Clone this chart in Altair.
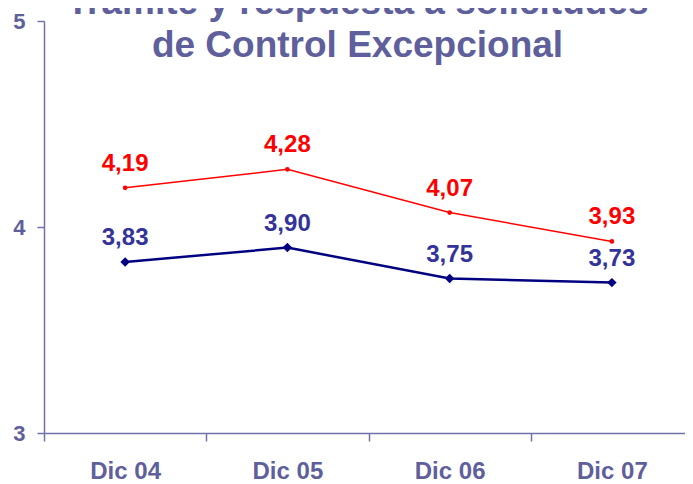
import altair as alt
import pandas as pd

categories = ["Dic 04", "Dic 05", "Dic 06", "Dic 07"]
red_values = [4.19, 4.28, 4.07, 3.93]
blue_values = [3.83, 3.90, 3.75, 3.73]
y_ticks = [3, 4, 5]
title_lines = ["Trámite y respuesta a solicitudes", "de Control Excepcional"]

rows = []
for c, r, b in zip(categories, red_values, blue_values):
    rows.append({"cat": c, "serie": "rojo", "v": r})
    rows.append({"cat": c, "serie": "azul", "v": b})
df = pd.DataFrame(rows)

AX = "#7272aa"
TX = "#5f5f9c"

# plot area is cut by the page edge on the right, as in the reference
x_enc = alt.X("cat:N", sort=categories, title=None,
              scale=alt.Scale(paddingInner=0, paddingOuter=0, range=[0, 649]),
              axis=alt.Axis(labelAngle=0, labelFont="Liberation Sans", labelFontSize=24,
                            labelFontWeight="bold", labelColor=TX, domainColor=AX,
                            domainWidth=1.5, tickColor=AX, tickWidth=1.5, tickSize=8,
                            tickBand="extent", labelPadding=18, grid=False))
y_enc = alt.Y("v:Q", title=None,
              scale=alt.Scale(domain=[3, 5], nice=False, zero=False),
              axis=alt.Axis(values=y_ticks, labelExpr="format(datum.value, '.0f')",
                            labelFont="Liberation Sans",
                            labelFontSize=22, labelFontWeight="bold", labelColor=TX,
                            labelOverlap=False, labelFlush=False,
                            domainColor=AX, domainWidth=1.5, tickColor=AX, tickWidth=1.5,
                            tickSize=7, labelPadding=12, grid=False))

base = alt.Chart(df).encode(x=x_enc, y=y_enc)

red = base.transform_filter(alt.datum.serie == "rojo")
blue = base.transform_filter(alt.datum.serie == "azul")

red_line = red.mark_line(color="#ff0000", strokeWidth=1.5)
red_pts = red.mark_point(shape="circle", filled=True, color="#ff0000", size=22, opacity=1)
blue_line = blue.mark_line(color="#000080", strokeWidth=2.5)
blue_pts = blue.mark_point(shape="diamond", filled=True, color="#000080", size=90, opacity=1)

lab = "replace(format(datum.v, '.2f'), '.', ',')"
red_txt = red.transform_calculate(t=lab).mark_text(
    font="Liberation Sans", fontSize=24, fontWeight="bold", color="#ff0000",
    baseline="alphabetic", dy=-17).encode(text="t:N")
blue_txt = blue.transform_calculate(t=lab).mark_text(
    font="Liberation Sans", fontSize=24, fontWeight="bold", color="#333399",
    baseline="alphabetic", dy=-17).encode(text="t:N")

chart = alt.layer(red_line, red_pts, blue_line, blue_pts, red_txt, blue_txt).properties(
    width=641, height=412,
    title=alt.TitleParams(text=title_lines, font="Liberation Sans", fontSize=37,
                          fontWeight="bold", color=TX, anchor="middle",
                          baseline="alphabetic", lineHeight=43, offset=0, dx=-7, dy=84),
    autosize=alt.AutoSizeParams(type="none"),
    padding={"left": 36, "top": 13, "right": 0, "bottom": 50},
).configure_view(stroke=None)

chart.save("out.html", embed_options={"renderer": "svg", "actions": False})
